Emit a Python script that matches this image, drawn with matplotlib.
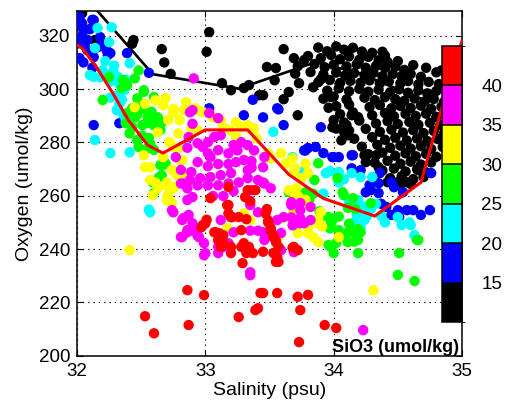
import matplotlib
matplotlib.use("Agg")
import matplotlib.pyplot as plt
import numpy as np
from matplotlib.colors import ListedColormap, BoundaryNorm

plt.rcParams['font.family'] = ['Liberation Sans', 'DejaVu Sans']

# ---------------- data ----------------
sio3_bounds = [10, 15, 20, 25, 30, 35, 40, 45]
sio3_colors = ['#000000', '#0000ff', '#00ffff', '#00ff00', '#ffff00', '#ff00ff', '#ff0000']
cbar_ticks = [15, 20, 25, 30, 35, 40]

# (salinity, oxygen) for stations by SiO3 class
pts_sio3_lt15 = [
    (32.04,328.5),(32.14,318.4),(32.44,318.4),(32.43,317.0),(32.66,315.0),(32.68,310.0),(32.73,305.7),
    (33.03,321.4),(33.01,314.0),(33.13,302.2),(33.20,299.6),(33.30,300.4),(33.34,301.5),(33.42,297.7),
    (33.61,315.0),(33.69,311.6),(33.77,310.9),(33.48,308.3),(33.55,307.9),(33.45,297.7),(33.54,303.3),
    (33.61,296.2),(33.72,290.2),(33.84,300.7),(33.73,302.2),(33.65,298.9),(33.90,303.7),(33.98,297.0),
    (33.99,285.7),(34.10,286.5),(34.11,282.7),(34.14,290.2),(34.24,275.2),(34.25,272.6),(34.33,275.2),
    (34.35,270.7),(34.42,265.1),(34.50,265.1),(34.57,265.1),(34.66,269.6),
    (33.88,315.6),(33.95,314.2),(34.02,316.0),(34.08,314.8),(34.15,315.5),(34.22,314.1),(34.30,313.6),
    (33.80,312.4),(33.90,311.6),(33.98,312.8),(34.05,311.2),(34.12,312.3),(34.20,311.0),(34.27,312.1),(34.35,310.8),(34.42,310.2),
    (33.72,308.6),(33.85,309.4),(33.93,308.2),(34.00,309.1),(34.10,308.5),(34.18,309.3),(34.25,308.0),(34.33,308.7),(34.40,307.9),(34.48,308.4),(34.55,307.2),
    (33.70,305.8),(33.82,306.4),(33.92,305.5),(34.02,306.2),(34.09,305.1),(34.16,306.0),(34.24,305.3),(34.31,306.1),(34.38,304.8),(34.46,305.6),(34.53,304.9),(34.60,305.7),(34.68,304.6),(34.80,306.3),(34.88,305.2),
    (33.88,302.6),(33.97,303.4),(34.05,302.3),(34.13,303.1),(34.21,302.4),(34.28,303.3),(34.36,302.1),(34.43,302.9),(34.52,302.2),(34.58,303.0),(34.66,301.8),(34.74,302.7),(34.82,301.9),(34.90,302.8),
    (33.95,299.4),(34.04,300.3),(34.12,299.2),(34.20,300.1),(34.27,299.0),(34.35,299.8),(34.44,298.8),(34.51,299.9),(34.58,298.6),(34.66,299.5),(34.73,298.4),(34.80,299.3),(34.88,298.5),(34.95,299.6),
    (33.92,296.4),(34.00,297.2),(34.10,296.1),(34.24,296.8),(34.32,295.9),(34.40,297.0),(34.48,296.2),(34.55,295.6),(34.63,296.5),(34.71,295.4),(34.78,296.3),(34.86,295.2),(34.93,296.0),
    (34.02,293.6),(34.12,294.2),(34.28,293.3),(34.36,294.0),(34.45,292.8),(34.52,293.7),(34.60,292.9),(34.68,293.8),(34.76,292.6),(34.84,293.4),(34.91,292.7),
    (34.05,290.6),(34.15,291.3),(34.30,290.2),(34.40,291.0),(34.47,289.8),(34.56,290.7),(34.64,289.9),(34.72,290.8),(34.80,289.6),(34.88,290.4),(34.95,289.5),
    (34.08,287.5),(34.20,288.2),(34.33,287.1),(34.42,288.0),(34.50,286.9),(34.59,287.7),(34.66,286.6),(34.75,287.4),(34.83,286.5),(34.92,287.3),
    (34.12,284.4),(34.25,285.1),(34.36,284.0),(34.45,284.8),(34.54,283.7),(34.62,284.6),(34.70,283.5),(34.78,284.3),(34.86,283.4),(34.94,284.2),
    (34.16,281.4),(34.30,282.0),(34.40,281.0),(34.48,281.8),(34.57,280.7),(34.65,281.5),(34.73,280.5),(34.81,281.3),(34.90,280.4),
    (34.22,278.4),(34.34,279.1),(34.44,278.0),(34.52,278.8),(34.60,277.7),(34.68,278.6),(34.76,277.5),(34.85,278.3),
    (34.27,275.6),(34.38,276.2),(34.48,275.0),(34.56,275.9),(34.64,274.8),(34.72,275.7),(34.80,274.6),
    (34.32,272.4),(34.42,273.1),(34.52,272.0),(34.60,272.8),(34.68,271.7),(34.76,272.5),
    (34.38,269.5),(34.47,270.2),(34.56,269.1),(34.65,269.9),(34.72,268.8),
    (34.44,266.6),(34.53,267.3),(34.62,266.2),(34.70,267.0),
    (34.52,263.8),(34.60,264.4),
    (33.96,293.0),(34.00,288.4),(34.02,285.2),(34.08,284.0),(34.06,280.8),(34.19,289.5),
    (34.40,312.5),(34.50,310.5),(34.62,309.0),(34.72,308.0),(34.84,307.0),(34.38,314.0),
]
pts_sio3_15_20 = [
    (32.02,327.0),(32.12,326.0),(32.04,324.7),(32.02,324.0),(32.05,322.0),(32.04,320.0),(32.13,325.9),
    (32.16,315.7),(32.08,314.6),(32.20,316.5),(32.23,314.6),(32.02,311.6),(32.05,310.0),(32.13,312.0),
    (32.26,313.5),(32.39,313.5),(32.24,312.8),(32.12,308.0),(32.13,286.5),(32.33,287.2),(32.56,306.1),
    (33.03,292.8),(32.08,318.5),(32.10,322.5),(32.00,317.0),(32.18,319.5),(32.06,316.5),
    (33.37,296.0),(33.57,292.4),(33.45,289.4),(33.61,286.5),(33.90,285.7),(33.80,277.9),(33.86,278.3),
    (33.92,276.0),(33.99,274.5),(34.04,274.5),(34.14,275.2),(34.21,269.6),(34.36,268.5),(34.29,262.1),
    (34.35,264.7),(34.45,265.1),(34.47,263.2),(34.54,261.3),(34.76,268.5),
    (34.41,255.8),(34.50,254.6),(34.57,254.6),(34.62,254.6),(34.68,252.8),(34.75,254.6),(34.45,252.8),(34.51,252.0),
    (34.28,264.0),(34.35,261.0),(34.25,261.3),(34.14,270.3),(34.00,274.5),(34.37,257.0),(33.77,277.0),
    (34.15,275.2),(33.30,290.2),(33.56,292.8),(33.78,277.0),
]
pts_sio3_20_25 = [
    (32.16,322.9),(32.27,323.2),(32.25,317.6),(32.14,315.4),(32.10,305.3),(32.13,304.6),(32.18,304.5),
    (32.29,308.8),(32.28,306.5),(32.26,302.8),(32.33,302.0),(32.35,300.7),(32.38,303.5),(32.37,299.6),
    (32.31,297.7),(32.26,296.8),(32.31,292.1),(32.33,294.5),(32.38,288.4),(32.36,290.5),(32.14,280.9),
    (32.26,276.0),(32.41,276.3),(32.41,309.7),(32.22,310.5),(32.20,307.0),(32.32,304.5),(32.35,296.0),
    (32.57,253.8),(32.56,254.8),
    (33.53,284.0),(33.68,274.5),(33.75,268.9),(33.94,268.5),(33.97,269.2),(34.04,268.9),(34.14,268.5),
    (34.04,265.0),(34.08,266.2),(34.21,267.0),(34.19,258.4),(34.23,256.0),(34.18,252.8),(34.24,250.9),
    (34.16,250.0),(34.21,248.2),(34.26,252.5),(34.33,257.0),(34.37,252.5),(34.50,252.0),(34.53,249.0),
    (34.60,249.0),(34.63,245.2),(34.30,267.0),(34.12,257.6),(33.92,260.8),(34.21,255.2),(34.29,255.0),
    (34.59,250.0),(34.40,250.0),
]
pts_sio3_25_30 = [
    (32.48,307.0),(32.25,304.5),(32.36,303.4),(32.35,300.4),(32.20,295.9),(32.39,301.5),(32.52,299.6),
    (32.60,297.0),(32.47,296.5),(32.43,292.8),(32.53,292.5),(32.39,291.0),(32.47,290.5),(32.45,289.4),
    (32.55,289.4),(32.63,289.4),(32.58,291.5),(32.38,287.2),(32.43,285.8),(32.51,286.5),(32.57,287.2),
    (32.60,286.5),(32.65,284.6),(32.41,283.4),(32.51,282.5),(32.47,280.9),(32.56,281.7),(32.48,278.3),
    (32.55,277.8),(32.60,277.2),(32.65,271.5),(32.69,272.2),(32.66,267.7),(32.60,261.0),(32.52,299.0),
    (32.49,293.2),(32.57,290.2),(32.63,288.0),(32.66,287.4),(32.57,279.5),(32.67,271.5),(32.64,267.0),
    (32.59,265.0),(32.45,304.0),
    (33.88,272.2),(34.03,266.6),(33.85,265.9),(33.78,261.3),(34.08,260.2),(34.07,261.3),(34.15,259.1),
    (34.29,257.2),(33.96,252.0),(34.00,251.5),(34.04,252.2),(33.98,249.7),(33.97,247.8),(34.04,247.1),
    (34.12,249.5),(34.10,245.9),(34.15,246.4),(34.21,246.3),(34.11,242.6),(34.19,243.4),(33.98,240.8),
    (34.00,238.5),(34.19,238.5),(34.51,238.5),(34.65,243.4),(33.84,260.8),(33.81,258.4),(33.89,254.2),
    (33.91,252.5),(34.02,242.3),(34.50,230.3),(34.63,228.0),(34.66,243.4),(33.96,241.5),(34.06,244.8),
    (34.16,242.8),(34.19,247.5),(34.11,255.5),(34.17,255.0),(33.65,261.3),(33.78,261.0),
]
pts_sio3_30_35 = [
    (32.45,293.2),(32.53,294.5),(32.61,295.9),(32.69,296.6),(32.75,292.6),(32.85,295.1),(32.94,292.1),
    (32.98,291.4),(33.10,289.1),(33.24,287.6),(33.33,286.5),(33.38,285.3),(32.71,288.4),(32.63,283.8),
    (32.79,283.4),(32.75,278.3),(32.67,274.5),(32.80,273.4),(32.74,269.7),(32.82,268.5),(32.70,265.0),
    (32.76,263.3),(32.63,263.3),(32.71,260.2),(32.57,270.7),
    (32.67,294.0),(32.75,291.3),(32.83,292.1),(32.92,292.8),(33.06,289.4),(33.12,288.3),(33.14,285.7),
    (33.19,284.6),(33.24,282.0),(32.80,288.4),(32.89,285.2),(32.94,284.6),(32.72,280.1),(32.79,277.9),
    (32.82,273.4),(32.70,263.9),(32.75,262.8),(32.71,259.1),(32.78,267.7),(32.53,270.7),(32.57,265.9),
    (32.61,265.0),(32.63,262.8),(32.59,260.2),(32.52,275.2),(32.41,239.6),(32.70,258.4),(32.74,257.3),
    (33.28,285.7),(33.49,275.9),(33.51,274.0),(33.59,275.9),(33.68,274.0),(33.63,272.2),(33.69,268.9),
    (33.75,266.6),(33.71,262.8),(33.65,262.1),(33.73,259.5),(33.78,257.6),(33.68,253.4),(33.72,249.7),
    (33.80,245.9),(33.60,251.6),(33.57,244.2),(33.17,247.8),(33.30,253.4),(33.35,250.9),(33.30,252.8),
    (33.70,270.2),(33.78,272.0),(33.80,268.5),(33.78,258.4),(33.72,256.5),(33.82,255.8),(33.90,253.9),
    (33.88,251.6),(33.84,244.5),(33.88,242.6),(34.04,244.5),(33.70,260.0),(33.74,258.0),(34.31,224.5),
    (33.72,246.0),(33.88,249.5),(33.91,248.5),(33.80,248.0),(33.35,285.0),(33.40,281.5),
]
pts_sio3_35_40 = [
    (32.88,291.3),(32.90,287.0),(32.87,282.0),(32.86,278.0),(32.94,279.7),(32.98,278.3),(33.02,280.1),
    (33.07,282.0),(33.12,282.7),(33.02,275.9),(33.10,277.1),(33.18,275.9),(33.25,277.0),(33.04,274.5),
    (32.94,272.6),(33.02,271.1),(33.10,271.9),(33.18,271.9),(33.24,272.6),(33.30,273.4),(33.38,277.0),
    (33.36,273.0),(33.33,269.6),(33.20,268.5),(33.12,267.7),(33.04,267.0),(32.96,266.6),(32.88,265.9),
    (32.81,264.6),(32.86,262.8),(32.94,263.9),(33.02,263.9),(33.10,263.9),(33.18,264.6),(33.26,265.0),
    (33.33,266.6),(33.41,265.9),(33.46,264.6),(33.51,262.8),(33.45,270.7),(33.46,274.5),(33.36,270.5),
    (33.28,280.1),(33.33,279.0),(33.22,279.0),(32.90,259.5),(32.86,258.4),(32.87,252.8),(32.83,251.6),
    (32.90,249.7),(32.92,247.8),(32.86,247.1),(32.81,244.5),(32.95,244.5),(32.74,254.6),(33.00,238.5),
    (33.12,250.9),(33.20,252.0),(33.22,246.3),(33.35,246.9),(33.41,246.9),(33.51,245.8),(33.56,250.9),
    (33.61,252.0),(33.69,249.7),(33.74,249.7),(33.45,265.0),(33.36,262.1),(33.22,261.7),(33.14,259.9),
    (33.06,259.9),(33.46,243.4),(33.10,238.5),(33.59,239.6),(33.69,238.8),
    (32.77,274.5),(32.81,269.7),(32.83,264.6),(32.89,268.9),(32.75,253.8),(32.82,250.9),(32.86,246.3),
    (32.82,244.5),(32.90,246.9),(32.94,245.0),(32.99,242.2),(32.99,237.7),(33.35,231.3),(33.10,240.8),
    (33.14,240.8),(33.18,242.2),
    (33.35,256.5),(33.41,253.8),(33.45,246.3),(33.59,246.0),(33.68,248.9),(33.72,250.1),(33.74,251.6),
    (33.67,251.9),(33.77,249.7),(33.82,250.9),(33.35,230.2),(33.67,256.5),(33.74,254.6),(34.23,209.6),
    (33.67,257.6),(33.74,257.3),(33.82,255.8),(32.91,304.0),(32.90,292.1),(33.03,291.0),(33.10,289.1),
]
pts_sio3_gt40 = [
    (33.18,263.3),(33.33,262.1),(33.39,262.1),(33.31,259.5),(33.35,258.0),(33.04,259.1),(32.98,249.0),
    (33.01,251.0),(33.17,256.5),(33.18,253.4),(33.21,252.0),(33.26,252.0),(33.32,251.2),(33.47,253.4),
    (33.49,250.0),(33.51,247.8),(33.53,245.2),(33.08,246.3),(33.14,245.2),(33.10,243.4),(33.12,240.8),
    (33.20,240.8),(33.28,240.8),(33.34,240.8),(33.32,238.5),(33.37,238.5),(33.45,239.0),(33.53,238.5),
    (33.56,237.0),(33.55,243.0),(33.20,238.5),
    (33.00,249.6),(32.97,248.2),(33.07,246.3),(33.11,245.9),(33.13,244.1),(33.14,242.2),(33.18,256.5),
    (33.20,252.0),(33.28,247.1),(33.29,234.7),(33.30,242.2),
    (32.86,224.6),(32.87,211.5),(32.99,222.7),(32.53,214.8),(32.60,208.4),(33.26,214.5),(33.39,217.1),
    (33.43,223.5),
    (33.49,250.7),(33.51,247.1),(33.53,244.5),(33.55,242.6),(33.57,240.8),(33.55,235.2),(33.57,235.2),
    (33.69,240.8),(33.72,239.6),(33.45,223.5),(33.56,223.5),(33.72,222.1),(33.80,222.8),(33.41,217.8),
    (33.74,217.1),(33.93,211.5),(34.02,210.4),(33.73,205.1),(33.48,255.0),(33.68,240.5),
]
sio3_class_values = [12.5, 17.5, 22.5, 27.5, 32.5, 37.5, 42.5]

black_line_sal = [32.10, 32.59, 33.26, 33.86, 34.20, 34.70]
black_line_oxy = [332.6, 305.6, 300.2, 310.1, 306.0, 296.0]
red_line_sal = [32.00, 32.04, 32.15, 32.28, 32.40, 32.55, 32.67, 33.00, 33.33, 33.65, 33.92, 34.32, 34.68, 34.87, 35.00]
red_line_oxy = [316.5, 315.4, 308.4, 298.4, 288.4, 279.0, 276.0, 284.7, 284.7, 268.0, 259.0, 252.4, 265.0, 297.7, 318.0]

x_ticks = [32, 33, 34, 35]
y_ticks = [200, 220, 240, 260, 280, 300, 320]

# ---------------- plot ----------------
fig = plt.figure(figsize=(5.07, 4.12), dpi=100)
ax = fig.add_axes([77/507, 1-355.7/412, 385/507, 344.7/412])

cmap = ListedColormap(sio3_colors)
norm = BoundaryNorm(sio3_bounds, cmap.N)

groups = [pts_sio3_lt15, pts_sio3_15_20, pts_sio3_20_25, pts_sio3_25_30,
          pts_sio3_30_35, pts_sio3_35_40, pts_sio3_gt40]
sc = None
for pts, v in zip(groups, sio3_class_values):
    arr = np.array(pts)
    sc = ax.scatter(arr[:, 0], arr[:, 1], c=np.full(len(arr), v), cmap=cmap, norm=norm,
                    s=56, linewidths=0, zorder=3)

ax.plot(black_line_sal, black_line_oxy, color='black', lw=1.9, zorder=2.9, solid_joinstyle='miter')
ax.plot(red_line_sal, red_line_oxy, color='red', lw=2.2, zorder=5, solid_joinstyle='miter')

ax.set_xlim(32, 35)
ax.set_ylim(200, 329.3)
ax.set_xticks(x_ticks)
ax.set_yticks(y_ticks)
ax.grid(True, color='black', linestyle=(0, (1.2, 3.6)), linewidth=0.8, zorder=1)
ax.set_axisbelow(True)
ax.tick_params(direction='in', length=4, width=0.8, labelsize=13.5, top=True, right=True, pad=5)
for sp in ax.spines.values():
    sp.set_linewidth(1.1)
ax.set_xlabel('Salinity (psu)', fontsize=14, labelpad=2)
ax.set_ylabel('Oxygen (umol/kg)', fontsize=14, labelpad=4)

# colorbar inside axes
cax = ax.inset_axes([(442-77)/385, 0.0978, 0.052, 0.8007])
cb = fig.colorbar(sc, cax=cax, boundaries=sio3_bounds, ticks=cbar_ticks, drawedges=True)
cb.outline.set_linewidth(1.1)
cb.dividers.set_linewidth(1.1)
cb.ax.tick_params(length=0, labelsize=13.5, pad=14)
cax.set_zorder(6)

ax.text(0.992, 0.012, 'SiO3 (umol/kg)', transform=ax.transAxes, ha='right', va='baseline',
        fontsize=13, fontweight='bold', zorder=7)

fig.savefig('out.png', dpi=100)
